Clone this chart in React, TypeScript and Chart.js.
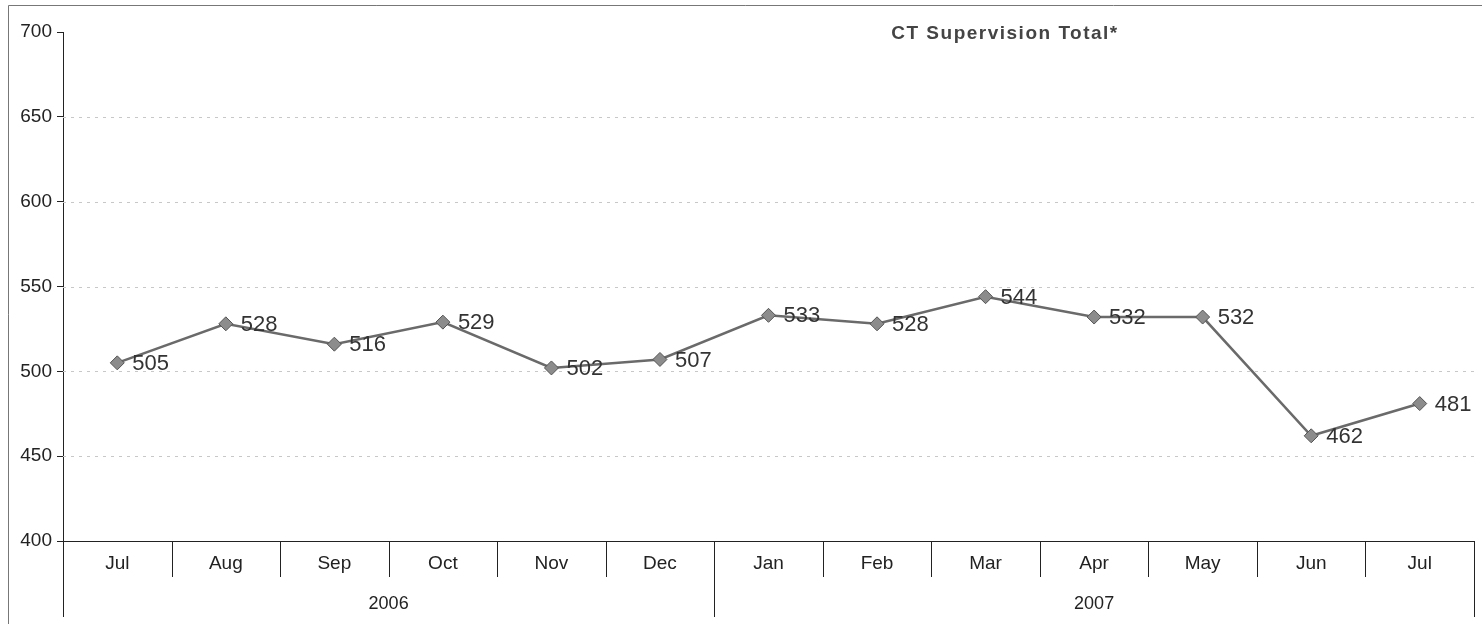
import React, { useEffect, useRef } from "react";
import { Chart, registerables } from "chart.js";

Chart.register(...registerables);

const months = ["Jul", "Aug", "Sep", "Oct", "Nov", "Dec", "Jan", "Feb", "Mar", "Apr", "May", "Jun", "Jul"];
const years = ["2006", "2007"];
const yearSpans = [6, 7];
const values = [505, 528, 516, 529, 502, 507, 533, 528, 544, 532, 532, 462, 481];
const yTicks = [400, 450, 500, 550, 600, 650, 700];
const titleText = "CT Supervision Total*";

const FONT = "Arial, 'Liberation Sans', sans-serif";

const customPlugin = {
  id: "custom",
  beforeDatasetsDraw(chart: any) {
    const ctx = chart.ctx;
    const y = chart.scales.y;
    const x = chart.scales.x;
    const ca = chart.chartArea;
    ctx.save();
    // dotted gridlines
    ctx.strokeStyle = "#c8c8c8";
    ctx.lineWidth = 1;
    ctx.setLineDash([3, 5]);
    yTicks.forEach((v) => {
      if (v === 400 || v === 700) return;
      const py = Math.round(y.getPixelForValue(v)) + 0.5;
      ctx.beginPath();
      ctx.moveTo(ca.left, py);
      ctx.lineTo(ca.right, py);
      ctx.stroke();
    });
    ctx.setLineDash([]);
    // category separators
    const n = months.length;
    const bounds: number[] = [ca.left];
    for (let i = 0; i < n - 1; i++) {
      bounds.push((x.getPixelForValue(i) + x.getPixelForValue(i + 1)) / 2);
    }
    bounds.push(ca.right);
    const yearBoundIdx = [0];
    let acc = 0;
    yearSpans.forEach((s) => {
      acc += s;
      yearBoundIdx.push(acc);
    });
    ctx.strokeStyle = "#222";
    ctx.lineWidth = 1;
    bounds.forEach((bx, i) => {
      const isYear = yearBoundIdx.includes(i);
      const px = Math.round(bx) + 0.5;
      ctx.beginPath();
      ctx.moveTo(px, ca.bottom);
      ctx.lineTo(px, isYear ? ca.bottom + 76 : ca.bottom + 36);
      ctx.stroke();
    });
    // month labels
    ctx.fillStyle = "#222";
    ctx.font = "19px " + FONT;
    ctx.textAlign = "center";
    ctx.textBaseline = "middle";
    months.forEach((m, i) => {
      ctx.fillText(m, x.getPixelForValue(i), ca.bottom + 23);
    });
    // year labels
    ctx.font = "18px " + FONT;
    yearSpans.forEach((s, k) => {
      const l = bounds[yearBoundIdx[k]];
      const r = bounds[yearBoundIdx[k + 1]];
      ctx.fillText(years[k], (l + r) / 2, ca.bottom + 63);
    });
    // outer frame
    ctx.strokeStyle = "#777";
    ctx.beginPath();
    ctx.moveTo(8.5, 624);
    ctx.lineTo(8.5, 5.5);
    ctx.lineTo(1482, 5.5);
    ctx.stroke();
    // title
    ctx.fillStyle = "#444";
    ctx.font = "bold 19px " + FONT;
    (ctx as any).letterSpacing = "1.5px";
    ctx.textAlign = "center";
    ctx.fillText(titleText, 1005, 34);
    (ctx as any).letterSpacing = "0px";
    ctx.restore();
  },
  afterDatasetsDraw(chart: any) {
    const ctx = chart.ctx;
    const meta = chart.getDatasetMeta(0);
    ctx.save();
    ctx.fillStyle = "#333";
    ctx.font = "22px " + FONT;
    ctx.textAlign = "left";
    ctx.textBaseline = "middle";
    meta.data.forEach((pt: any, i: number) => {
      ctx.fillText(String(values[i]), pt.x + 15, pt.y + 1);
    });
    ctx.restore();
  },
};

export default function App() {
  const ref = useRef<HTMLCanvasElement | null>(null);
  useEffect(() => {
    if (!ref.current) return;
    const chart = new Chart(ref.current, {
      type: "line",
      data: {
        labels: months,
        datasets: [
          {
            data: values,
            borderColor: "#6a6a6a",
            borderWidth: 2.5,
            pointStyle: "rectRot",
            pointRadius: 7,
            pointBackgroundColor: "#8c8c8c",
            pointBorderColor: "#555",
            pointBorderWidth: 1,
            tension: 0,
          },
        ],
      },
      options: {
        animation: false,
        responsive: false,
        maintainAspectRatio: false,
        layout: { padding: { left: 0, top: 32, right: 2, bottom: 0 } },
        plugins: { legend: { display: false }, tooltip: { enabled: false }, title: { display: false } },
        scales: {
          x: {
            type: "category",
            offset: true,
            grid: { display: false },
            ticks: { display: false },
            border: { display: true, color: "#222", width: 1 },
            afterFit: (s: any) => {
              s.height = 83;
            },
          },
          y: {
            min: 400,
            max: 700,
            afterBuildTicks: (s: any) => {
              s.ticks = yTicks.map((v) => ({ value: v }));
            },
            grid: {
              display: true,
              color: "rgba(0,0,0,0)",
              drawTicks: true,
              tickLength: 6,
              tickColor: "#222",
            },
            border: { display: true, color: "#222", width: 1 },
            ticks: {
              color: "#222",
              font: { family: FONT, size: 19 },
              padding: 5,
            },
            afterFit: (s: any) => {
              s.width = 63;
            },
          },
        },
      },
      plugins: [customPlugin],
    } as any);
    return () => chart.destroy();
  }, []);
  return (
    <div style={{ position: "absolute", left: 0, top: 0, width: 1482, height: 624 }}>
      <canvas ref={ref} width={1482} height={624} style={{ display: "block" }} />
    </div>
  );
}
